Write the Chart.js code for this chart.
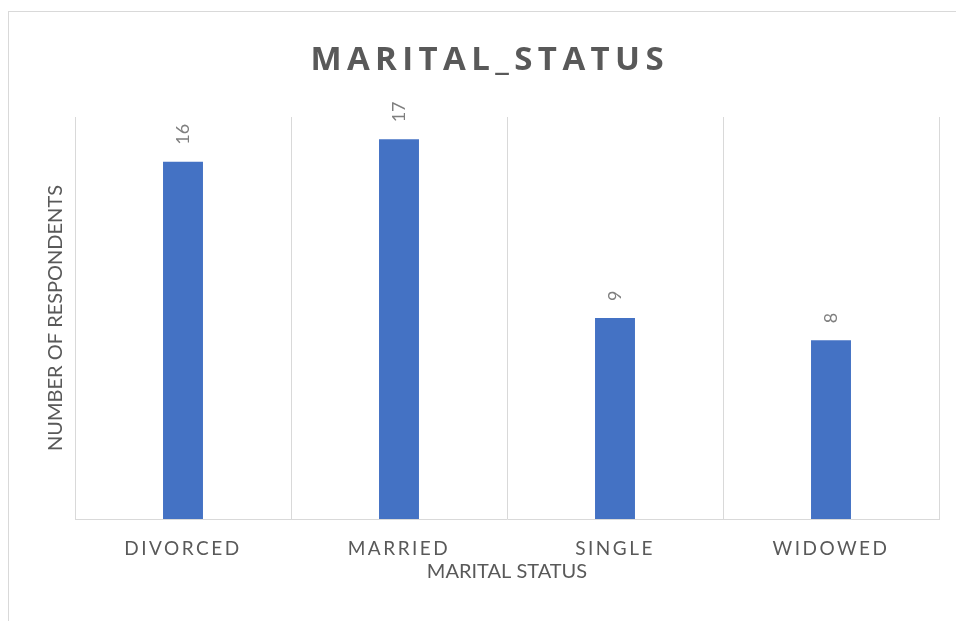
<!DOCTYPE html>
<html>
<head>
<meta charset="utf-8">
<script src="https://cdn.jsdelivr.net/npm/chart.js@4.4.1/dist/chart.umd.min.js"></script>
<style>
  html, body { margin: 0; padding: 0; background: #fff; overflow: hidden; width: 956px; height: 621px; }
  #frame { position: absolute; left: 8px; top: 11px; width: 1200px; height: 900px; border: 1px solid #d9d9d9; box-sizing: border-box; }
  #wrap { position: absolute; left: 0; top: 0; width: 956px; height: 621px; }
</style>
</head>
<body>
<div id="frame"></div>
<div id="wrap"><canvas id="c" width="956" height="621"></canvas></div>
<script>
const categories = ['DIVORCED', 'MARRIED', 'SINGLE', 'WIDOWED'];
const respondents = [16, 17, 9, 8];
const chartTitle = 'MARITAL_STATUS';
const xTitle = 'MARITAL STATUS';
const yTitle = 'NUMBER OF RESPONDENTS';
const yMax = 18;

const FONT = "Lato, 'Open Sans', sans-serif";
const TITLE_FONT = "'Open Sans', Lato, sans-serif";
const TEXT = '#595959';

class SpacedCategoryScale extends Chart.CategoryScale {
  drawLabels(chartArea) {
    const ctx = this.ctx;
    ctx.save();
    ctx.letterSpacing = '2.5px';
    super.drawLabels(chartArea);
    ctx.restore();
  }
}
SpacedCategoryScale.id = 'spacedCategory';
SpacedCategoryScale.defaults = Chart.CategoryScale.defaults;
Chart.register(SpacedCategoryScale);

const titleSpacing = {
  id: 'titleSpacing',
  afterLayout(chart) {
    const tb = chart.titleBlock;
    if (tb && !tb._spacedWrapped) {
      const orig = tb.draw.bind(tb);
      tb.draw = function () {
        const ctx = chart.ctx;
        ctx.save();
        ctx.letterSpacing = '5.4px';
        ctx.translate(2.7, 0);
        orig();
        ctx.restore();
      };
      tb._spacedWrapped = true;
    }
  }
};

const barLabels = {
  id: 'barLabels',
  afterDatasetsDraw(chart) {
    const ctx = chart.ctx;
    const meta = chart.getDatasetMeta(0);
    const data = chart.data.datasets[0].data;
    ctx.save();
    ctx.font = '18px ' + FONT;
    ctx.fillStyle = '#7f7f7f';
    ctx.textAlign = 'left';
    ctx.textBaseline = 'middle';
    meta.data.forEach((bar, i) => {
      ctx.save();
      ctx.translate(bar.x, bar.y - 17);
      ctx.rotate(-Math.PI / 2);
      ctx.fillText(String(data[i]), 0, 0);
      ctx.restore();
    });
    ctx.restore();
  }
};

new Chart(document.getElementById('c'), {
  type: 'bar',
  data: {
    labels: categories,
    datasets: [{
      data: respondents,
      backgroundColor: '#4472C4',
      borderWidth: 0,
      categoryPercentage: 1,
      barPercentage: 0.185
    }]
  },
  options: {
    responsive: false,
    animation: false,
    devicePixelRatio: 1,
    layout: { padding: { left: 35, right: 17, top: 0, bottom: 0 } },
    plugins: {
      legend: { display: false },
      tooltip: { enabled: false },
      title: {
        display: true,
        text: chartTitle,
        color: TEXT,
        font: { family: TITLE_FONT, size: 33, weight: 'bold', lineHeight: 1.2 },
        padding: { top: 41, bottom: 36.4 }
      }
    },
    scales: {
      x: {
        type: 'spacedCategory',
        offset: true,
        grid: { display: true, offset: true, color: '#d9d9d9', lineWidth: 1, drawTicks: false },
        border: { display: true, color: '#d9d9d9', width: 1 },
        ticks: { color: TEXT, font: { family: FONT, size: 19, lineHeight: 1.2 }, padding: 18, maxRotation: 0, autoSkip: false },
        title: { display: true, text: xTitle, color: TEXT, font: { family: FONT, size: 20, lineHeight: 1.2 }, padding: { top: 0, bottom: 37.5 } },
        afterFit(s) { s.height = 102; }
      },
      y: {
        type: 'linear',
        min: 0,
        max: yMax,
        grid: { display: false },
        border: { display: false },
        ticks: { display: false },
        title: { display: true, text: yTitle, color: TEXT, font: { family: FONT, size: 20, lineHeight: 1.2 }, padding: { top: 9, bottom: 0 } },
        afterFit(s) { s.width = 40; }
      }
    }
  },
  plugins: [titleSpacing, barLabels]
});
</script>
</body>
</html>
